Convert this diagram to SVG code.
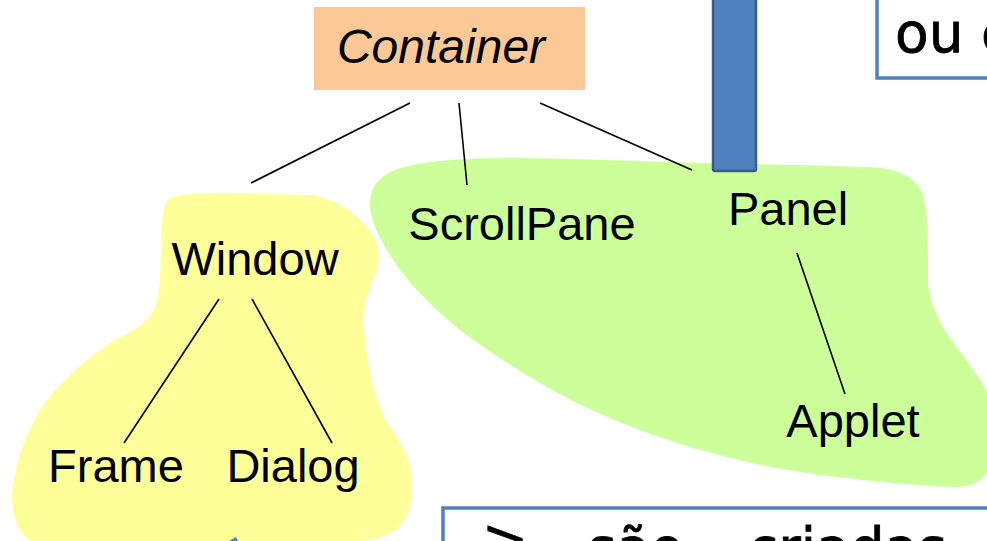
<svg xmlns="http://www.w3.org/2000/svg" width="987" height="541" viewBox="0 0 987 541">
<style>
.lbl{font-family:"Liberation Sans",Arial,sans-serif;font-size:47px;fill:#000}
.it{font-style:italic;font-size:48px}
.conn line{stroke:#000;stroke-width:1.6}
.note{fill:#fff;stroke:#4F81BD;stroke-width:3.5}
.hand{font-family:"Comic Sans MS","DejaVu Sans",sans-serif;font-size:55px;fill:#000;stroke:#000;stroke-width:0.8}
</style>
<rect width="987" height="541" fill="#fff"/>
<g id="yellow-region">
<path fill="#FFFF99" d="M173,197 C200,190 260,194 313,195 C335,200 350,208 365,225 C378,238 382,255 376,272 C368,292 362,305 364,330 C368,370 375,405 392,430 C405,450 412,462 412,487 C412,505 408,520 395,530 C385,537 370,541 360,541 L30,541 C18,532 12,515 12,495 C14,470 22,440 40,410 C58,383 85,360 110,343 C135,330 150,322 156,305 C162,285 160,250 162,225 C163,207 166,200 173,197 Z"/>
</g>
<g id="green-region">
<path fill="#CCFF99" d="M370,200 C372,185 380,175 400,168 C430,160 470,158 520,158 C600,159 650,162 708,163 C780,165 850,166 880,168 C900,170 915,178 922,192 C928,210 928,240 928,283 C930,305 940,325 955,345 C970,365 982,380 987,393 L987,473 C978,484 968,487 955,487 C920,486 880,482 820,475 C760,467 700,452 640,430 C580,408 520,375 460,330 C430,305 405,280 390,255 C378,236 369,218 370,200 Z"/>
</g>
<g id="blue-bar">
<rect x="713" y="-10" width="43" height="181" rx="2" fill="#4F81BD" stroke="#385D8A" stroke-width="2.5"/>
</g>
<g id="note-top">
<rect x="877" y="-20" width="130" height="98" class="note"/>
<text class="hand" x="895" y="52">ou c</text>
</g>
<g id="note-bottom">
<rect x="443" y="508" width="580" height="80" class="note"/>
<text class="hand" x="482" y="558">&gt;</text>
<text class="hand" x="588" y="567">são</text>
<text class="hand" x="748" y="567">criadas</text>
</g>
<g id="blue-tip">
<polygon points="229,541 236,537 238,541" fill="#4F81BD"/>
</g>
<g id="connectors" class="conn">
<line x1="410" y1="103" x2="251" y2="183"/>
<line x1="459" y1="103" x2="467" y2="185"/>
<line x1="540" y1="103" x2="692" y2="170"/>
<line x1="219" y1="299" x2="124" y2="443"/>
<line x1="252" y1="299" x2="332" y2="443"/>
<line x1="797" y1="253" x2="845" y2="394"/>
</g>
<g id="node-container">
<rect x="314" y="7" width="271" height="83" fill="#FCC996"/>
<text class="lbl it" x="441" y="63" text-anchor="middle">Container</text>
</g>
<g id="node-window"><text class="lbl" x="255" y="275" text-anchor="middle">Window</text></g>
<g id="node-frame"><text class="lbl" x="116" y="482" text-anchor="middle">Frame</text></g>
<g id="node-dialog"><text class="lbl" x="293" y="482" text-anchor="middle">Dialog</text></g>
<g id="node-scrollpane"><text class="lbl" x="522" y="240" text-anchor="middle">ScrollPane</text></g>
<g id="node-panel"><text class="lbl" x="788" y="225" text-anchor="middle">Panel</text></g>
<g id="node-applet"><text class="lbl" x="853" y="437" text-anchor="middle">Applet</text></g>
</svg>
